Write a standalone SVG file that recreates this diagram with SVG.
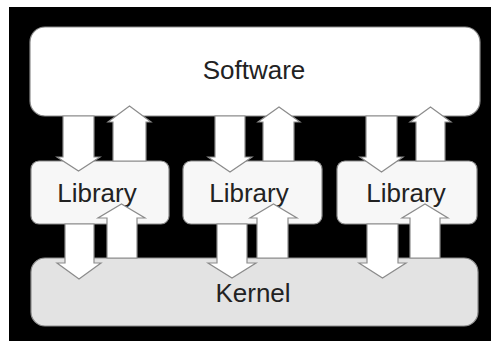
<svg xmlns="http://www.w3.org/2000/svg" width="491" height="341" viewBox="0 0 491 341">
<style>
.box{stroke:#8c8c8c;stroke-width:1.2}
.lbl{font-family:"Liberation Sans",Arial,sans-serif;font-size:26px;fill:#222;text-anchor:middle}
.arr{fill:#fff;stroke:#8c8c8c;stroke-width:1.2;stroke-linejoin:miter}
</style>
<rect x="0" y="0" width="491" height="341" fill="#fff"/>
<rect x="9" y="7" width="482" height="334" fill="#000"/>
<g id="software">
<rect class="box" x="30" y="27" width="450" height="89" rx="15" fill="#fff"/>
<text class="lbl" x="254" y="79">Software</text>
</g>
<g id="library1">
<rect class="box" x="31" y="161" width="138" height="63" rx="8" fill="#f7f7f7"/>
<text class="lbl" x="97" y="202">Library</text>
</g>
<g id="library2">
<rect class="box" x="183" y="161" width="139" height="63" rx="8" fill="#f7f7f7"/>
<text class="lbl" x="249" y="202">Library</text>
</g>
<g id="library3">
<rect class="box" x="337" y="161" width="140" height="63" rx="8" fill="#f7f7f7"/>
<text class="lbl" x="406" y="202">Library</text>
</g>
<g id="kernel">
<rect class="box" x="31" y="258" width="447" height="68" rx="14" fill="#e3e3e3"/>
<text class="lbl" x="253" y="302">Kernel</text>
</g>
<g id="connectors">
<polygon class="arr" points="63,116 94,116 94,157 100,157 78.5,171 57,157 63,157"/>
<polygon class="arr" points="215,116 245,116 245,157 252,157 230,172 208,157 215,157"/>
<polygon class="arr" points="366,116 397,116 397,157 403,157 381.5,172 360,157 366,157"/>
<polygon class="arr" points="113,161 146,161 146,122 151,122 129.5,106 108,122 113,122"/>
<polygon class="arr" points="263,161 294,161 294,122 300,122 279,107 258,122 263,122"/>
<polygon class="arr" points="416,161 445,161 445,122 451,122 430.5,107 410,122 416,122"/>
<polygon class="arr" points="65,224 94,224 94,263 101,263 79,279 57,263 65,263"/>
<polygon class="arr" points="217,224 247,224 247,263 256,263 232,278 208,263 217,263"/>
<polygon class="arr" points="367,224 398,224 398,263 406,263 382.5,278 359,263 367,263"/>
<polygon class="arr" points="107,258 137,258 137,218 145,218 121.5,204 98,218 107,218"/>
<polygon class="arr" points="257,258 288,258 288,218 297,218 273.5,204 250,218 257,218"/>
<polygon class="arr" points="410,258 440,258 440,218 448,218 425,204 402,218 410,218"/>
</g>
</svg>
